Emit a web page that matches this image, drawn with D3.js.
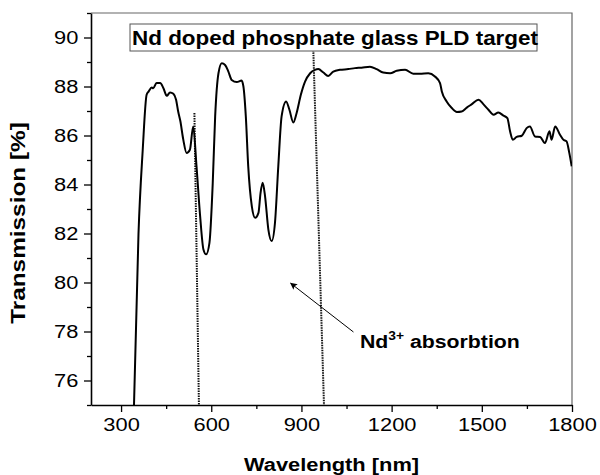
<!DOCTYPE html>
<head>
<meta charset="utf-8">
<script src="https://d3js.org/d3.v7.min.js"></script>
<style>
    body { margin: 0; background: #fff; font-family: "Liberation Sans", Arial, sans-serif; }
    .axis path { stroke: #000; stroke-width: 1.6px; }
    .axis line { stroke: #000; stroke-width: 1.3px; }
    .axis text { font-size: 19px; font-family: "Liberation Sans", Arial, sans-serif; fill: #000; }
</style>
</head>
<body>
<script>

    // transmission spectrum
    var wavelength = [343, 358, 372, 385, 392, 402, 407, 418, 430, 441, 452, 463, 474, 483, 490, 497,
        507, 518, 529, 540, 551, 563, 574, 583, 594, 605, 613, 624, 635, 646, 657, 668, 685, 701,
        707, 715, 723, 735, 746, 757, 764, 771, 779, 790, 801, 812, 823, 834, 849, 860, 873, 884,
        898, 912, 929, 945, 956, 973, 989, 1006, 1028, 1056, 1078, 1100, 1128, 1150, 1172, 1195,
        1217, 1245, 1272, 1294, 1322, 1344, 1361, 1367, 1383, 1400, 1417, 1433, 1450, 1467, 1489,
        1505, 1522, 1539, 1555, 1572, 1585, 1594, 1603, 1616, 1633, 1649, 1660, 1677, 1694, 1710,
        1725, 1732, 1744, 1760, 1771, 1782, 1791, 1799];
    var transmission = [75, 82, 85.4, 87.66, 87.8, 87.96, 87.93, 88.14, 88.14, 87.93, 87.62, 87.76, 87.7, 87.46, 86.98, 86.6,
        85.83, 85.29, 85.42, 86.37, 84.74, 82.71, 81.35, 81.15, 81.62, 84.07, 86.78, 88.54, 88.95, 88.88, 88.61, 88.27, 88.18, 88.24,
        88.0, 86.78, 84.74, 83.11, 82.64, 82.84, 83.66, 84.07, 83.52, 82.16, 81.69, 82.44, 84.74, 86.78, 87.39, 87.05, 86.53, 86.92,
        87.66, 88.2, 88.54, 88.68, 88.71, 88.57, 88.43, 88.61, 88.68, 88.71, 88.75, 88.77, 88.81, 88.71, 88.57, 88.54,
        88.64, 88.68, 88.52, 88.52, 88.54, 88.41, 88.14, 87.8, 87.39, 87.12, 86.96, 86.98, 87.14, 87.28, 87.46,
        87.28, 87.05, 86.85, 86.94, 86.81, 86.71, 86.17, 85.83, 85.94, 85.99, 86.3, 86.37, 85.96, 85.94, 85.69,
        86.17, 85.83, 86.37, 86.03, 85.83, 85.76, 85.29, 84.74];

    // dotted guide lines [x1, y1, x2, y2] in data units
    var guideLines = [[544, 86.92, 559, 75], [939, 89.7, 975, 75]];
    // arrow tail -> tip
    var arrowFrom = [1073, 77.98], arrowTo = [864, 79.97];

    var xTicks = [300, 600, 900, 1200, 1500, 1800];
    var xMinor = [450, 750, 1050, 1350, 1650];
    var yTicks = [76, 78, 80, 82, 84, 86, 88, 90];
    var yMinor = [75, 77, 79, 81, 83, 85, 87, 89, 91];

    var title = "Nd doped phosphate glass PLD target";
    var xLabel = "Wavelength [nm]";
    var yLabel = "Transmission [%]";

    var pLeft = 91, pRight = 572, pTop = 13, pBottom = 405;
    var stretch = "scale(1.15,1)";

    var x = d3.scaleLinear().domain([200, 1800]).range([pLeft, pRight]);
    var y = d3.scaleLinear().domain([75, 91]).range([pBottom, pTop]);

    var svg = d3.select("body").append("svg")
        .attr("width", 600)
        .attr("height", 475);

    var defs = svg.append("defs");
    defs.append("marker")
        .attr("id", "arrow")
        .attr("viewBox", "0 0 10 10")
        .attr("refX", 9).attr("refY", 5)
        .attr("markerWidth", 11).attr("markerHeight", 7)
        .attr("markerUnits", "userSpaceOnUse")
        .attr("orient", "auto")
        .append("path")
        .attr("d", "M0,0 L10,5 L0,10 L2,5 Z")
        .attr("fill", "#000");

    defs.append("clipPath").attr("id", "clip")
        .append("rect")
        .attr("x", pLeft).attr("y", pTop)
        .attr("width", pRight - pLeft).attr("height", pBottom - pTop);

    // top and right frame
    svg.append("path")
        .attr("d", "M" + pLeft + "," + pTop + "H" + pRight + "V" + pBottom)
        .attr("fill", "none")
        .attr("stroke", "#666")
        .attr("stroke-width", 1.2);

    // minor ticks
    svg.append("g").attr("class", "axis")
        .attr("transform", "translate(0," + pBottom + ")")
        .call(d3.axisBottom(x).tickValues(xMinor).tickSize(4).tickFormat(""))
        .select(".domain").remove();
    svg.append("g").attr("class", "axis")
        .attr("transform", "translate(" + pLeft + ",0)")
        .call(d3.axisLeft(y).tickValues(yMinor).tickSize(4).tickFormat(""))
        .select(".domain").remove();

    // major axes
    svg.append("g").attr("class", "axis")
        .attr("transform", "translate(0," + pBottom + ")")
        .call(d3.axisBottom(x).tickValues(xTicks).tickFormat(d3.format("d"))
            .tickSize(7).tickSizeOuter(0).tickPadding(6))
        .selectAll("text").attr("transform", stretch);
    svg.append("g").attr("class", "axis")
        .attr("transform", "translate(" + pLeft + ",0)")
        .call(d3.axisLeft(y).tickValues(yTicks).tickFormat(d3.format("d"))
            .tickSize(7).tickSizeOuter(0).tickPadding(4))
        .selectAll("text").attr("transform", stretch);

    var plot = svg.append("g").attr("clip-path", "url(#clip)");

    plot.selectAll(".guide")
        .data(guideLines)
        .enter().append("line")
        .attr("class", "guide")
        .attr("x1", function(d) { return x(d[0]); })
        .attr("y1", function(d) { return y(d[1]); })
        .attr("x2", function(d) { return x(d[2]); })
        .attr("y2", function(d) { return y(d[3]); })
        .attr("stroke", "#111")
        .attr("stroke-width", 2)
        .attr("stroke-dasharray", "1.5,1");

    var line = d3.line()
        .x(function(d, i) { return x(wavelength[i]); })
        .y(function(d) { return y(d); })
        .curve(d3.curveMonotoneX);

    plot.append("path")
        .datum(transmission)
        .attr("d", line)
        .attr("fill", "none")
        .attr("stroke", "#000")
        .attr("stroke-width", 2)
        .attr("stroke-linejoin", "round");

    // title box
    svg.append("rect")
        .attr("x", 130).attr("y", 24)
        .attr("width", 407).attr("height", 27)
        .attr("fill", "#fff")
        .attr("stroke", "#555")
        .attr("stroke-width", 1);
    svg.append("text")
        .attr("transform", "translate(335,45) " + stretch)
        .attr("text-anchor", "middle")
        .style("font-size", "19.5px")
        .style("font-weight", "bold")
        .text(title);

    // arrow + annotation
    svg.append("line")
        .attr("x1", x(arrowFrom[0])).attr("y1", y(arrowFrom[1]))
        .attr("x2", x(arrowTo[0])).attr("y2", y(arrowTo[1]))
        .attr("stroke", "#000")
        .attr("stroke-width", 1)
        .attr("marker-end", "url(#arrow)");

    var ann = svg.append("text")
        .attr("transform", "translate(360,348) " + stretch)
        .style("font-size", "18.5px")
        .style("font-weight", "bold");
    ann.append("tspan").text("Nd");
    ann.append("tspan").attr("dy", -8).style("font-size", "12px").text("3+");
    ann.append("tspan").attr("dy", 8).text(" absorbtion");

    // axis labels
    svg.append("text")
        .attr("transform", "translate(" + ((pLeft + pRight) / 2) + ",471) " + stretch)
        .attr("text-anchor", "middle")
        .style("font-size", "19px")
        .style("font-weight", "bold")
        .text(xLabel);

    svg.append("text")
        .attr("transform", "translate(25,223) rotate(-90) scale(1.16,1)")
        .attr("text-anchor", "middle")
        .style("font-size", "21px")
        .style("font-weight", "bold")
        .text(yLabel);

</script>
</body>
